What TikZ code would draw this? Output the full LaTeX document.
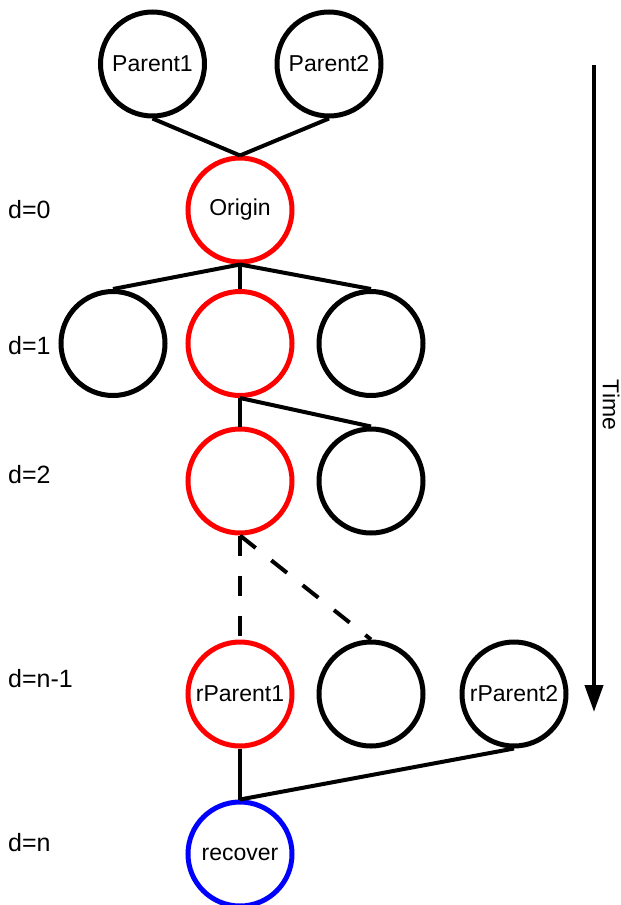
\documentclass[tikz,border=0pt]{standalone}
\usepackage{fontspec}
\setmainfont{Liberation Sans}
\usetikzlibrary{arrows.meta}
\definecolor{pred}{RGB}{255,0,0}
\definecolor{pblue}{RGB}{0,0,255}
\tikzset{
  gen/.style={circle, draw=black, line width=5pt, fill=white, minimum size=104pt, inner sep=0pt, font=\fontsize{23}{27}\selectfont},
  path1/.style={gen, draw=pred},
  rec/.style={gen, draw=pblue},
  conn/.style={line width=4pt, black},
  dconn/.style={conn, dash pattern=on 20pt off 20pt},
  lvl/.style={anchor=base west, inner sep=0pt, font=\fontsize{25}{30}\selectfont},
}
\begin{document}
\begin{tikzpicture}[x=1pt,y=-1pt]
\useasboundingbox (0,0) rectangle (621,905);
% nodes
\node[gen] (p1) at (152.5,64) {Parent1};
\node[gen] (p2) at (329,64) {Parent2};
\node[path1] (o) at (240,210) {Origin};
\node[gen] (a1) at (113,343.5) {};
\node[path1] (a2) at (240,343.5) {};
\node[gen] (a3) at (371,343.5) {};
\node[path1] (b1) at (240,481) {};
\node[gen] (b2) at (371,481) {};
\node[path1] (r1) at (240,694) {rParent1};
\node[gen] (c2) at (371,694) {};
\node[gen] (r2) at (514,694) {rParent2};
\node[rec] (rc) at (240,854) {recover};
% connectors
\draw[conn] (p1.south) -- (o.north);
\draw[conn] (p2.south) -- (o.north);
\draw[conn] (o.south) -- (a1.north);
\draw[conn] (o.south) -- (a2.north);
\draw[conn] (o.south) -- (a3.north);
\draw[conn] (a2.south) -- (b1.north);
\draw[conn] (a2.south) -- (b2.north);
\draw[dconn] (b1.south) -- (r1.north);
\draw[dconn] (b1.south) -- (c2.north);
\draw[conn] (r1.south) -- (rc.north);
\draw[conn] (r2.south) -- (rc.north);
% levels
\node[lvl] (l0) at (8,218) {d=0};
\node[lvl] (l1) at (8,354) {d=1};
\node[lvl] (l2) at (8,483) {d=2};
\node[lvl] (l3) at (8,687) {d=n-1};
\node[lvl] (l4) at (8,851) {d=n};
% time
\coordinate (t0) at (594,65);
\coordinate (t1) at (594,712);
\draw[line width=4pt, -{Triangle[width=18pt,length=27pt]}] (t0) -- (t1);
\node[rotate=-90, inner sep=0pt, font=\fontsize{23}{27}\selectfont] (tm) at (611,405) {Time};
\end{tikzpicture}
\end{document}
